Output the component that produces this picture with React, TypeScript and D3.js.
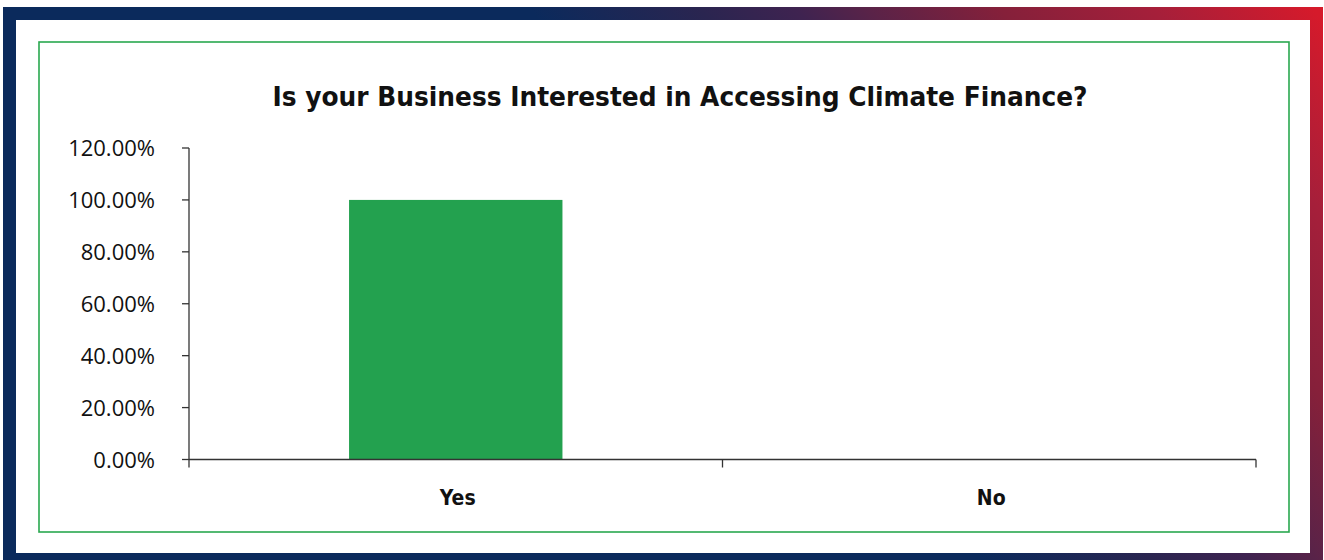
import React from "react";
import * as d3 from "d3";

const categories = ["Yes", "No"];
const values = [1.0, 0.0];
const yTicks = [0, 0.2, 0.4, 0.6, 0.8, 1.0, 1.2];
const title = "Is your Business Interested in Accessing Climate Finance?";

export default function App() {
  const W = 1324, H = 560;
  const left = 189, right = 1256, top = 148, bottom = 459.5;
  const x = d3.scaleBand<string>().domain(categories).range([left, right]).paddingInner(0).paddingOuter(0);
  const y = d3.scaleLinear().domain([0, 1.2]).range([bottom, top]);
  const bw = x.bandwidth();
  const barW = bw * 0.4;
  const fmt = (v: number) => (v * 100).toFixed(2) + "%";
  const boundaries = [left, ...categories.map((c) => (x(c) as number) + bw)];

  return (
    <svg width={W} height={H} style={{ position: "absolute", left: 0, top: 0, display: "block" }}>
      <defs>
        <linearGradient id="frame" x1={0} y1={0} x2={780} y2={-640} gradientUnits="userSpaceOnUse">
          <stop offset="0" stopColor="#0b2a5c" />
          <stop offset="0.4" stopColor="#0b2a5c" />
          <stop offset="0.53" stopColor="#2a2550" />
          <stop offset="0.605" stopColor="#3f2350" />
          <stop offset="0.66" stopColor="#5a2348" />
          <stop offset="0.76" stopColor="#85203a" />
          <stop offset="0.88" stopColor="#a61f3a" />
          <stop offset="1" stopColor="#d51a2b" />
        </linearGradient>
      </defs>
      <rect x={0} y={0} width={W} height={H} fill="#fff" />
      <rect x={9.5} y={13.5} width={1307} height={546} fill="none" stroke="url(#frame)" strokeWidth={13} />
      <rect x={39} y={42} width={1250} height={490} fill="#fff" stroke="#2aa84f" strokeWidth={1.6} />
      <text x={680} y={106} textAnchor="middle" fontFamily="'DejaVu Sans Condensed', 'DejaVu Sans', sans-serif" fontWeight="bold" fontSize={26} textLength={815} lengthAdjust="spacingAndGlyphs" fill="#111">{title}</text>
      {categories.map((c, i) => (
        <rect key={c} x={(x(c) as number) + (bw - barW) / 2} y={y(values[i])} width={barW} height={bottom - y(values[i])} fill="#23a14f" />
      ))}
      <line x1={left} x2={left} y1={top} y2={bottom} stroke="#333" strokeWidth={1.3} />
      {yTicks.map((t) => (
        <g key={t}>
          <line x1={left - 7} x2={left} y1={y(t)} y2={y(t)} stroke="#333" strokeWidth={1.3} />
          <text x={155} y={y(t) + 8} textAnchor="end" fontFamily="'Open Sans', sans-serif" fontSize={22} fill="#111">{fmt(t)}</text>
        </g>
      ))}
      <line x1={left} x2={right} y1={bottom} y2={bottom} stroke="#333" strokeWidth={1.3} />
      {boundaries.map((b, i) => (
        <line key={i} x1={b} x2={b} y1={bottom} y2={bottom + 8} stroke="#333" strokeWidth={1.3} />
      ))}
      {categories.map((c) => (
        <text key={c} x={(x(c) as number) + bw / 2 + 2} y={505} textAnchor="middle" fontFamily="'DejaVu Sans Condensed', 'DejaVu Sans', sans-serif" fontWeight="bold" fontSize={21} fill="#111">{c}</text>
      ))}
    </svg>
  );
}
